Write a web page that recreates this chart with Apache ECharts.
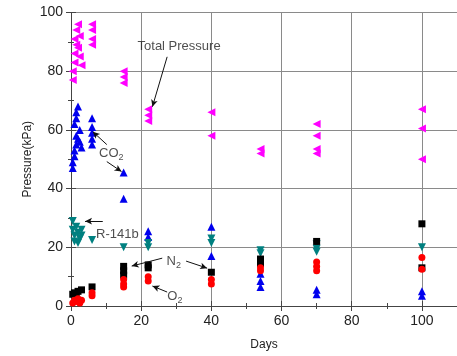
<!DOCTYPE html>
<html><head><meta charset="utf-8">
<script src="https://cdn.jsdelivr.net/npm/echarts@6/dist/echarts.min.js"></script>
<style>html,body{margin:0;padding:0;background:#fff}#c{width:457px;height:356px}</style>
</head><body><div id="c"></div>
<script>
// ---- data (days, kPa) ----
const totalPressure = [[0.5,77],[0.5,80],[1,83],[1,86],[1.5,89],[1,91],[1.5,94],[2,96],[2,88],[2.5,85],[3,82],[2.5,92],
  [6,96],[6,94],[6,91],[6,89],[15,80],[15,78],[15,76],[22,67],[22,65],[22,63],[40,66],[40,58],
  [54,53.5],[54,52],[70,62],[70,58],[70,53.5],[70,52],[100,67],[100,60.5],[100,50]];
const co2 = [[0.5,47],[0.5,49],[1,51],[1,53],[1.5,55],[2,57],[2.5,56],[3,54],[1.5,58],[1,62],[1.5,64],[1.5,66],[2,68],[2.5,60],
  [6,64],[6,61],[6,59],[6,57],[6,55],[15,45.5],[15,36.5],[22,25.5],[22,23.5],[40,27],[40,17],
  [54,11],[54,8.5],[54,6.5],[70,5.5],[70,4],[100,5],[100,3.5]];
const r141b = [[0.5,29],[0.5,26],[1,24],[1,22],[1.5,27],[2,25],[2,21.5],[2.5,23],[3,26],[3,24],[6,22.5],[15,20],
  [22,21.5],[22,20],[40,23],[40,21.5],[54,19],[54,18],[70,21],[70,19.5],[70,18.5],[100,20]];
const n2 = [[0.5,4],[1,4.5],[1.5,4],[2,5],[3,5.5],[6,6.5],[15,13.5],[15,12],[15,10.5],[22,14],[22,13],[40,11.5],
  [54,16],[54,14.5],[70,22],[100,28],[100,13]];
const o2 = [[0.5,1],[1,2],[1.5,1.5],[2,2.5],[2.5,1],[3,2],[6,4.5],[6,3.5],[15,9],[15,7.5],[15,6.5],[22,10],[22,8.5],
  [40,9],[40,7.5],[54,12],[54,13],[70,15],[70,13.5],[70,12],[100,16.5],[100,12.5]];
const xTicks = [0,20,40,60,80,100];
const yTicks = [0,20,40,60,80,100];
// annotation texts and arrows (data coords)
const annTexts = [[30.8,88.6,'Total Pressure'],[11.5,52,'CO2'],[13.2,24.4,'R-141b'],[29.3,15.3,'N2'],[29.6,3.4,'O2']];
const annArrows = [[[27.4,84.9],[23.2,67.9]],[[10.2,55],[6.2,59.4]],[[10.2,49.2],[14.4,45.8]],[[9.05,28.9],[4.0,28.9]],
  [[26,16.3],[17.3,13.6]],[[32.8,15.3],[38.8,12.9]],[[27.4,4.75],[23.2,6.8]]];

const chart = echarts.init(document.getElementById('c'), null, {renderer:'canvas'});
const FONT = 'Liberation Sans';
const AX = '#444';
const leftTri = 'path://M0,5 L10,0 L10,10 Z';
const downTri = 'path://M0,0 L10,0 L5,10 Z';
const upTri = 'path://M5,0 L10,10 L0,10 Z';
function sc(name, data, symbol, color, size){
  return {name, type:'scatter', data, symbol, symbolSize:size, itemStyle:{color, opacity:1}, silent:true, z:3};
}
const subFmt = t => {
  const m = t.match(/^(CO|N|O)2$/);
  return m ? '{n|' + m[1] + '}{s|2}' : '{n|' + t + '}';
};
// helper axes: tick-only axes
function tickAxis(kind, pos, interval, len, max){
  return {type:'value', min:0, max, interval, position:pos,
    axisLine:{show:true, lineStyle:{color:AX, width:1}},
    axisTick:{show:true, inside:true, length:len, lineStyle:{color:AX}},
    axisLabel:{show:false}, splitLine:{show:false}};
}
chart.setOption({
  animation:false,
  grid:{left:71, right:-3, top:12.5, bottom:49, show:false},
  xAxis:[{type:'value', min:0, max:110, interval:20, position:'bottom',
    axisLine:{lineStyle:{color:AX, width:1}}, axisTick:{inside:true, length:5, lineStyle:{color:AX}},
    axisLabel:{color:'#222', fontFamily:FONT, fontSize:14, margin:8, showMaxLabel:false,
      formatter:v=> xTicks.includes(v)? String(v):''},
    splitLine:{show:true, lineStyle:{color:'#8a8a8a', width:1}},
    name:'Days', nameLocation:'middle', nameGap:33, nameMoveOverlap:false,
    nameTextStyle:{color:'#222', fontFamily:FONT, fontSize:12}},
   tickAxis('x','top',20,5,110),
   tickAxis('x','bottom',10,3,110),
   tickAxis('x','top',10,3,110)],
  yAxis:[{type:'value', min:0, max:100, interval:20, position:'left',
    axisLine:{lineStyle:{color:AX, width:1}}, axisTick:{inside:true, length:5, lineStyle:{color:AX}},
    axisLabel:{color:'#222', fontFamily:FONT, fontSize:14, margin:8, formatter:v=> yTicks.includes(v)? String(v):''},
    splitLine:{show:true, lineStyle:{color:'#8a8a8a', width:1}},
    name:'Pressure(kPa)', nameLocation:'middle', nameGap:37, nameMoveOverlap:false,
    nameTextStyle:{color:'#222', fontFamily:FONT, fontSize:12}},
   tickAxis('y','right',20,5,100),
   tickAxis('y','left',10,3,100),
   tickAxis('y','right',10,3,100)],
  series:[
    sc('Total Pressure', totalPressure, leftTri, '#ff00ff', 8),
    sc('CO2', co2, upTri, '#0000ee', 8),
    sc('R-141b', r141b, downTri, '#008080', 8),
    sc('N2', n2, 'rect', '#000000', 7),
    sc('O2', o2, 'circle', '#ff0000', 7),
    {type:'scatter', name:'ann', silent:true, z:5, symbolSize:0,
     data: annTexts.map(a=>({value:[a[0],a[1]], name:a[2]})),
     label:{show:true, position:'inside', formatter:p=>subFmt(p.name),
       rich:{n:{fontFamily:FONT, fontSize:13, color:'#222'}, s:{fontFamily:FONT, fontSize:9, color:'#222', verticalAlign:'bottom', padding:[8,0,0,0]}}},
     markLine:{silent:true, symbol:['none','arrow'], symbolSize:[5,7], animation:false,
       lineStyle:{color:'#111', width:1, type:'solid'}, label:{show:false},
       data: annArrows.map(a=>[{coord:a[0]},{coord:a[1]}])}}
  ]
});
</script></body></html>
